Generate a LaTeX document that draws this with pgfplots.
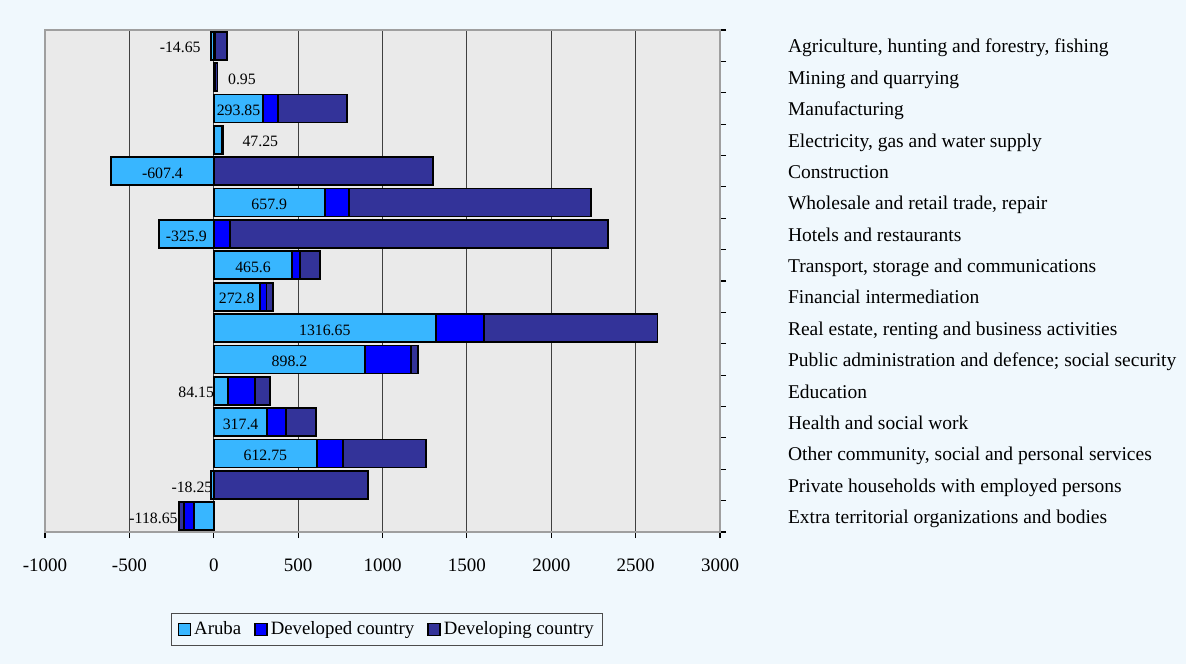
\documentclass[border=0pt]{standalone}
\usepackage{pgfplots}
\pgfplotsset{compat=1.18}
\usepackage{pgfplotstable}
\usepackage{fontspec}
\setmainfont{Liberation Serif}
\definecolor{pagebg}{HTML}{F0F8FD}
\definecolor{plotbg}{HTML}{EAEAEA}
\definecolor{aruba}{HTML}{38B6FF}
\definecolor{devd}{HTML}{0000FF}
\definecolor{devg}{HTML}{333399}

\pgfplotstableread{
y A B C
1 -14.65 8 70
2 0.95 8 13
3 293.85 89 409
4 47.25 4 5
5 -607.4 0 1298
6 657.9 144 1433
7 -325.9 96 2238
8 465.6 45 121
9 272.8 40 40
10 1316.65 286 1027
11 898.2 269 44
12 84.15 160 87
13 317.4 109 178
14 612.75 155 488
15 -18.25 0 916
16 -118.65 -59 -30
}\data

\pgfplotstableread{
y x lab
1 -199 -14.65
2 167 0.95
3 147 293.85
4 276 47.25
5 -304 -607.4
6 329 657.9
7 -163 -325.9
8 233 465.6
9 136 272.8
10 658 1316.65
11 449 898.2
12 -104 84.15
13 159 317.4
14 306 612.75
15 -129 -18.25
16 -357 -118.65
}\labs

\begin{document}
\begin{tikzpicture}
\path[use as bounding box, fill=pagebg] (0,0) rectangle (593pt,332pt);
\begin{axis}[
  at={(22.5pt,66pt)}, anchor=south west,
  scale only axis, width=337.5pt, height=251pt,
  xmin=-1000, xmax=3000, ymin=0.5, ymax=16.5, y dir=reverse,
  axis background/.style={fill=plotbg},
  axis line style={draw=gray!75, line width=0.9pt},
  xtick={-1000,-500,...,3000},
  xtick pos=bottom, tick align=outside,
  major tick length=3pt, minor tick length=3pt,
  major x tick style={black, line width=0.6pt},
  xmajorgrids, major x grid style={black!75, line width=0.5pt},
  /pgf/number format/1000 sep={},
  /pgf/number format/assume math mode=true,
  xticklabel style={font=\fontsize{9.5}{11}\selectfont, yshift=-7pt},
  ytick={1,...,16},
  yticklabels={
    {Agriculture, hunting and forestry, fishing},
    {Mining and quarrying},
    {Manufacturing},
    {Electricity, gas and water supply},
    {Construction},
    {Wholesale and retail trade, repair},
    {Hotels and restaurants},
    {Transport, storage and communications},
    {Financial intermediation},
    {Real estate, renting and business activities},
    {Public administration and defence; social security},
    {Education},
    {Health and social work},
    {Other community, social and personal services},
    {Private households with employed persons},
    {Extra territorial organizations and bodies}},
  ytick pos=right, yticklabel pos=right,
  major y tick style={draw=none},
  minor ytick={0.5,1.5,...,16.5},
  minor y tick style={black, line width=0.6pt},
  yticklabel style={anchor=west, xshift=27.5pt, yshift=-1.2pt, text height=7pt, text depth=2.2pt,
    font=\fontsize{9.75}{11}\selectfont},
  legend style={at={(0.507,-0.194)}, anchor=center, legend columns=3,
    draw=black!70, fill=pagebg, font=\fontsize{9.4}{11}\selectfont,
    inner xsep=3pt, inner ysep=2pt,
    /tikz/every even column/.append style={column sep=5pt},
    nodes={inner xsep=1.5pt}},
]
% positive side (overlapping cumulative bars)
\addplot[xbar, bar shift=0pt, bar width=14pt, fill=devg, draw=black, line width=0.9pt, forget plot]
  table[y=y, x expr={max(\thisrow{A},0)+max(\thisrow{B},0)+max(\thisrow{C},0)}]{\data};
\addplot[xbar, bar shift=0pt, bar width=14pt, fill=devd, draw=black, line width=0.9pt, forget plot]
  table[y=y, x expr={max(\thisrow{A},0)+max(\thisrow{B},0)}]{\data};
\addplot[xbar, bar shift=0pt, bar width=14pt, fill=aruba, draw=black, line width=0.9pt, forget plot]
  table[y=y, x expr={max(\thisrow{A},0)}]{\data};
% negative side
\addplot[xbar, bar shift=0pt, bar width=14pt, fill=devg, draw=black, line width=0.9pt, forget plot]
  table[y=y, x expr={min(\thisrow{A},0)+min(\thisrow{B},0)+min(\thisrow{C},0)}]{\data};
\addplot[xbar, bar shift=0pt, bar width=14pt, fill=devd, draw=black, line width=0.9pt, forget plot]
  table[y=y, x expr={min(\thisrow{A},0)+min(\thisrow{B},0)}]{\data};
\addplot[xbar, bar shift=0pt, bar width=14pt, fill=aruba, draw=black, line width=0.9pt, forget plot]
  table[y=y, x expr={min(\thisrow{A},0)}]{\data};
% data labels
\addplot[only marks, mark=none, forget plot, nodes near coords, point meta=explicit symbolic,
  nodes near coords style={anchor=center, inner sep=0pt, yshift=-1pt, text=black, font=\fontsize{7.9}{9}\selectfont}]
  table[x=x, y=y, meta=lab]{\labs};
\addlegendimage{legend image code/.code={\draw[fill=aruba, draw=black, line width=0.8pt] (0pt,-3pt) rectangle (6pt,3pt);}}
\addlegendentry{Aruba}
\addlegendimage{legend image code/.code={\draw[fill=devd, draw=black, line width=0.8pt] (0pt,-3pt) rectangle (6pt,3pt);}}
\addlegendentry{Developed country}
\addlegendimage{legend image code/.code={\draw[fill=devg, draw=black, line width=0.8pt] (0pt,-3pt) rectangle (6pt,3pt);}}
\addlegendentry{Developing country}
\end{axis}
\end{tikzpicture}
\end{document}
